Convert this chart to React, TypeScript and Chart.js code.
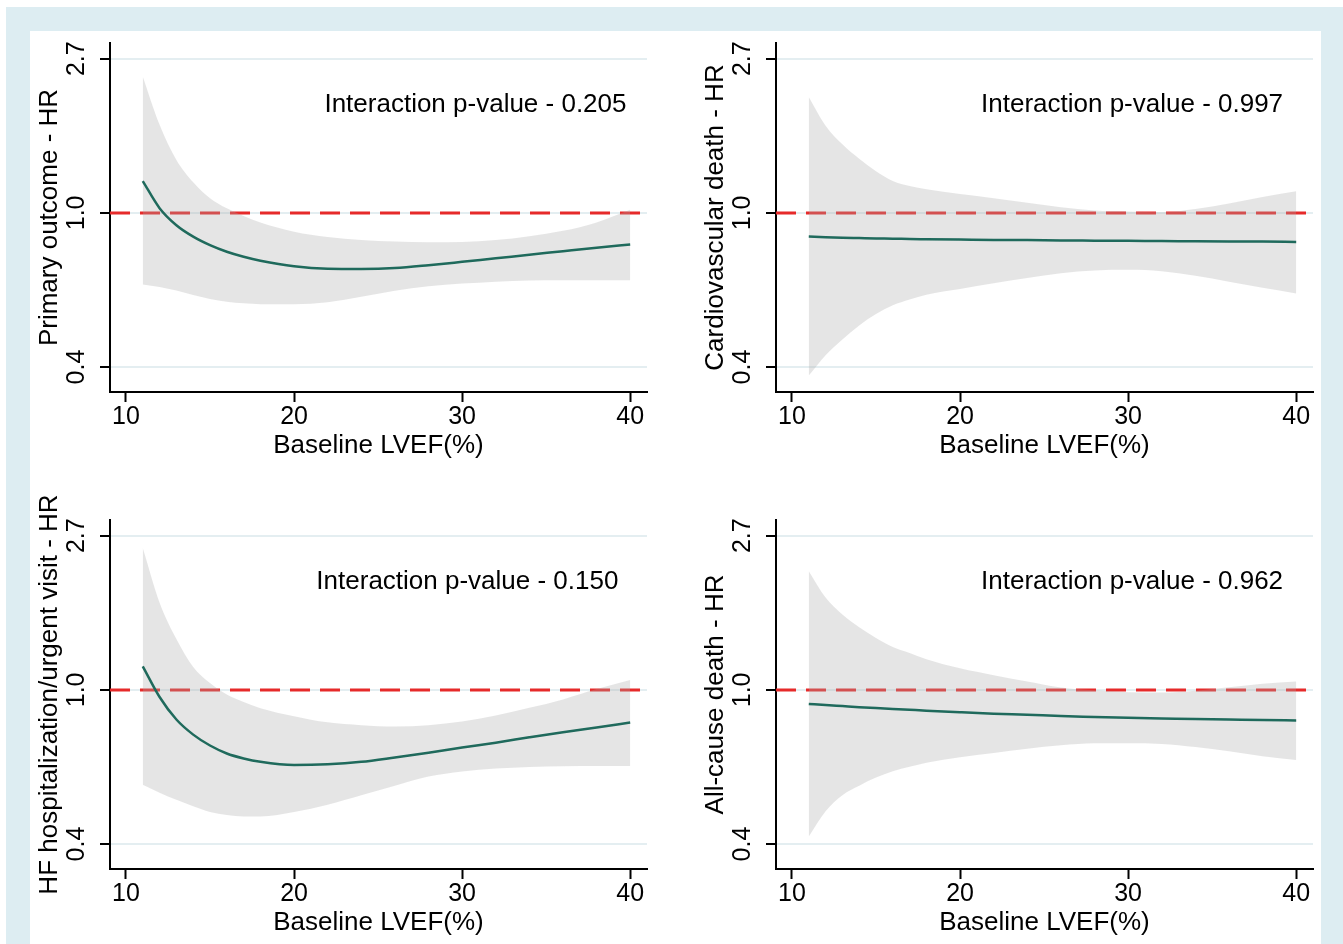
import React, { useEffect, useRef } from 'react';
import { Chart, registerables } from 'chart.js';

Chart.register(...registerables);

// ---------- data ----------
const LVEF = [11, 12, 13, 14, 15, 16, 17, 18, 20, 22, 24, 26, 28, 30, 32, 34, 36, 38, 40];
const X_TICKS = [10, 20, 30, 40];
const Y_TICK_VALUES = [Math.exp(-1), 1, Math.exp(1)];
const Y_TICK_LABELS = ['0.4', '1.0', '2.7'];
const X_TITLE = 'Baseline LVEF(%)';

const PRIMARY_HR = [1.229, 1.031, 0.923, 0.857, 0.811, 0.777, 0.752, 0.733, 0.707, 0.696, 0.695, 0.699, 0.712, 0.728, 0.745, 0.762, 0.78, 0.798, 0.814];
const PRIMARY_UPPER = [2.42, 1.77, 1.41, 1.22, 1.1, 1.03, 0.98, 0.94, 0.885, 0.855, 0.838, 0.83, 0.826, 0.828, 0.838, 0.86, 0.89, 0.94, 1.02];
const PRIMARY_LOWER = [0.628, 0.618, 0.604, 0.587, 0.572, 0.562, 0.556, 0.553, 0.553, 0.56, 0.58, 0.603, 0.621, 0.632, 0.64, 0.645, 0.646, 0.646, 0.646];

const CVD_HR = [0.858, 0.854, 0.851, 0.849, 0.847, 0.846, 0.844, 0.843, 0.841, 0.839, 0.838, 0.836, 0.835, 0.834, 0.833, 0.832, 0.831, 0.83, 0.828];
const CVD_UPPER = [2.12, 1.76, 1.56, 1.42, 1.31, 1.23, 1.19, 1.165, 1.13, 1.1, 1.068, 1.038, 1.016, 1.009, 1.004, 1.025, 1.062, 1.108, 1.15];
const CVD_LOWER = [0.348, 0.397, 0.44, 0.482, 0.519, 0.549, 0.57, 0.588, 0.61, 0.633, 0.655, 0.676, 0.688, 0.691, 0.685, 0.665, 0.64, 0.615, 0.593];

const HFH_HR = [1.165, 0.955, 0.825, 0.748, 0.697, 0.662, 0.641, 0.627, 0.614, 0.617, 0.627, 0.645, 0.665, 0.688, 0.71, 0.735, 0.76, 0.784, 0.809];
const HFH_UPPER = [2.51, 1.76, 1.39, 1.16, 1.045, 0.97, 0.925, 0.888, 0.843, 0.81, 0.795, 0.788, 0.795, 0.814, 0.847, 0.89, 0.94, 1.005, 1.067];
const HFH_LOWER = [0.54, 0.513, 0.49, 0.47, 0.453, 0.444, 0.44, 0.44, 0.453, 0.475, 0.505, 0.537, 0.57, 0.589, 0.6, 0.606, 0.609, 0.61, 0.61];

const ACD_HR = [0.913, 0.906, 0.9, 0.894, 0.889, 0.884, 0.879, 0.874, 0.865, 0.857, 0.851, 0.844, 0.839, 0.834, 0.831, 0.828, 0.825, 0.822, 0.82];
const ACD_UPPER = [2.16, 1.82, 1.63, 1.5, 1.4, 1.32, 1.27, 1.22, 1.15, 1.1, 1.055, 1.015, 0.997, 0.985, 0.983, 0.995, 1.017, 1.04, 1.056];
const ACD_LOWER = [0.386, 0.455, 0.505, 0.537, 0.566, 0.59, 0.607, 0.623, 0.646, 0.664, 0.683, 0.698, 0.707, 0.707, 0.704, 0.69, 0.672, 0.65, 0.635];

const Y_TITLES = ['Primary outcome - HR', 'Cardiovascular death - HR', 'HF hospitalization/urgent visit - HR', 'All-cause death - HR'];
const P_TEXTS = ['Interaction p-value - 0.205', 'Interaction p-value - 0.997', 'Interaction p-value - 0.150', 'Interaction p-value - 0.962'];
const P_TEXT_X = [39.78, 39.22, 39.3, 39.22];
const P_TEXT_Y = 2.01;

// ---------- style ----------
const FONT = '"Liberation Sans", Arial, Helvetica, sans-serif';
const FRAME = '#ddedf2';
const GRID = '#e4eef1';
const TEAL = '#1f6a5c';
const RED = '#e62a2a';
const BAND = 'rgba(170,170,170,0.3)';
const X_MIN = 9.05;
const X_MAX = 41.0;
const Y_MIN = Math.exp(-1.162);
const Y_MAX = Math.exp(1.102);

const CANVAS_W = 625;
const CANVAS_H = 460;
const PAD_TOP = 42;

type Panel = { hr: number[]; upper: number[]; lower: number[]; title: string; pText: string; pX: number; left: number; top: number };

const PANELS: Panel[] = [
  { hr: PRIMARY_HR, upper: PRIMARY_UPPER, lower: PRIMARY_LOWER, title: Y_TITLES[0], pText: P_TEXTS[0], pX: P_TEXT_X[0], left: 30, top: 1 },
  { hr: CVD_HR, upper: CVD_UPPER, lower: CVD_LOWER, title: Y_TITLES[1], pText: P_TEXTS[1], pX: P_TEXT_X[1], left: 696, top: 1 },
  { hr: HFH_HR, upper: HFH_UPPER, lower: HFH_LOWER, title: Y_TITLES[2], pText: P_TEXTS[2], pX: P_TEXT_X[2], left: 30, top: 478 },
  { hr: ACD_HR, upper: ACD_UPPER, lower: ACD_LOWER, title: Y_TITLES[3], pText: P_TEXTS[3], pX: P_TEXT_X[3], left: 696, top: 478 },
];

const toPts = (ys: number[]) => LVEF.map((x, i) => ({ x, y: ys[i] }));

function PanelChart({ panel }: { panel: Panel }) {
  const ref = useRef<HTMLCanvasElement | null>(null);
  useEffect(() => {
    if (!ref.current) return;
    const annot = {
      id: 'pAnnot',
      afterDatasetsDraw(chart: any) {
        const ctx = chart.ctx;
        const xs = chart.scales.x;
        const ys = chart.scales.y;
        ctx.save();
        ctx.font = `26px ${FONT}`;
        ctx.fillStyle = '#000';
        ctx.textAlign = 'right';
        ctx.textBaseline = 'middle';
        ctx.fillText(panel.pText, xs.getPixelForValue(panel.pX), ys.getPixelForValue(P_TEXT_Y));
        ctx.restore();
      },
    };
    const chart = new Chart(ref.current, {
      type: 'line',
      data: {
        datasets: [
          { label: 'HR', data: toPts(panel.hr), borderColor: TEAL, borderWidth: 2.5, pointRadius: 0, fill: false, cubicInterpolationMode: 'monotone', order: 0 },
          { label: 'upper', data: toPts(panel.upper), borderColor: 'transparent', borderWidth: 0, pointRadius: 0, backgroundColor: BAND, fill: '+1', cubicInterpolationMode: 'monotone', order: 1 },
          { label: 'lower', data: toPts(panel.lower), borderColor: 'transparent', borderWidth: 0, pointRadius: 0, fill: false, cubicInterpolationMode: 'monotone', order: 1 },
          { label: 'ref', data: [{ x: X_MIN, y: 1 }, { x: X_MAX, y: 1 }], borderColor: RED, borderWidth: 3, borderDash: [20, 10], pointRadius: 0, fill: false, order: 2 },
        ],
      } as any,
      options: {
        animation: false,
        responsive: false,
        maintainAspectRatio: false,
        devicePixelRatio: 1,
        layout: { padding: { top: PAD_TOP, right: 8, bottom: 0, left: 0 } },
        plugins: { legend: { display: false }, tooltip: { enabled: false } },
        scales: {
          x: {
            type: 'linear',
            bounds: 'data',
            min: X_MIN,
            max: X_MAX,
            afterBuildTicks: (s: any) => { s.ticks = X_TICKS.map((v) => ({ value: v })); },
            ticks: { font: { size: 25, family: FONT }, color: '#000', padding: 0, maxRotation: 0, autoSkip: false },
            grid: { display: true, drawOnChartArea: false, drawTicks: true, tickLength: 10, tickColor: '#000', tickWidth: 2 },
            border: { display: true, color: '#000', width: 2 },
            title: { display: true, text: X_TITLE, color: '#000', font: { size: 26, family: FONT }, padding: { top: 0, bottom: 0 } },
            afterFit: (s: any) => { s.height = 69; s.paddingLeft = 0; s.paddingRight = 0; },
          },
          y: {
            type: 'logarithmic',
            bounds: 'data',
            min: Y_MIN,
            max: Y_MAX,
            afterBuildTicks: (s: any) => { s.ticks = Y_TICK_VALUES.map((v) => ({ value: v })); },
            ticks: {
              callback: (_v: any, i: number) => Y_TICK_LABELS[i],
              minRotation: 90, maxRotation: 90, crossAlign: 'center', padding: 6, autoSkip: false,
              color: '#000', font: { size: 25, family: FONT },
            },
            grid: { color: GRID, lineWidth: 2, drawTicks: true, tickLength: 10, tickColor: '#000', tickWidth: 2 },
            border: { display: true, color: '#000', width: 2 },
            title: { display: true, text: panel.title, color: '#000', font: { size: 26, family: FONT }, padding: { top: 4, bottom: 0 } },
            afterFit: (s: any) => { s.width = 80; s.paddingTop = 0; s.paddingBottom = 0; },
          },
        },
      } as any,
      plugins: [annot],
    });
    return () => chart.destroy();
  }, [panel]);
  return (
    <canvas
      ref={ref}
      width={CANVAS_W}
      height={CANVAS_H}
      style={{ position: 'absolute', left: panel.left, top: panel.top, width: CANVAS_W, height: CANVAS_H, display: 'block' }}
    />
  );
}

export default function App() {
  return (
    <div style={{ position: 'fixed', left: 0, top: 0, width: 1343, height: 944, background: '#fff', overflow: 'hidden' }}>
      <div style={{ position: 'absolute', left: 6, top: 7, width: 1337, height: 937, background: FRAME }} />
      <div style={{ position: 'absolute', left: 30, top: 31, width: 1291, height: 913, background: '#fff' }} />
      {PANELS.map((p, i) => (
        <PanelChart key={i} panel={p} />
      ))}
    </div>
  );
}
